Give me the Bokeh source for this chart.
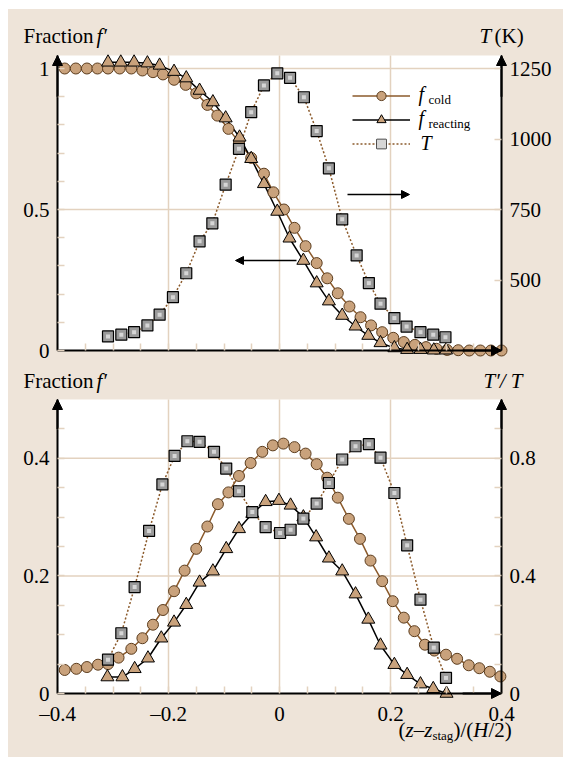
from bokeh.plotting import figure
from bokeh.layouts import column
from bokeh.models import (Range1d, LinearAxis, FixedTicker, Arrow, NormalHead,
                          Label, Legend, LegendItem)
from bokeh.embed import file_html
from bokeh.resources import INLINE

# ---------------- data ----------------
# Top panel: mean fractions and temperature
x_cold_top = [-0.387, -0.367, -0.347, -0.328, -0.309, -0.288, -0.267, -0.247, -0.228, -0.21,
              -0.19, -0.169, -0.15, -0.13, -0.112, -0.092, -0.073, -0.051, -0.028, -0.011,
              0.008, 0.027, 0.047, 0.067, 0.086, 0.105, 0.126, 0.146, 0.165, 0.185,
              0.205, 0.224, 0.244, 0.264, 0.283, 0.302, 0.322, 0.342, 0.362, 0.381, 0.4]
f_cold_top = [1.0, 1.0, 1.0, 1.0, 1.0, 1.0, 1.0, 0.993, 0.987, 0.979,
              0.960, 0.942, 0.912, 0.871, 0.833, 0.786, 0.739, 0.683, 0.627, 0.561,
              0.5, 0.435, 0.370, 0.310, 0.256, 0.203, 0.156, 0.118, 0.089, 0.065,
              0.045, 0.030, 0.020, 0.012, 0.006, 0.002, 0.001, 0.0, 0.0, 0.0, 0.0]

x_react_top = [-0.309, -0.286, -0.262, -0.238, -0.216, -0.19, -0.168, -0.144, -0.120, -0.097,
               -0.072, -0.051, -0.028, -0.004, 0.018, 0.043, 0.067, 0.089, 0.113, 0.137,
               0.160, 0.182, 0.207, 0.230, 0.254, 0.278, 0.300]
f_react_top = [1.022, 1.022, 1.022, 1.019, 1.011, 0.989, 0.966, 0.922, 0.881, 0.824,
               0.756, 0.680, 0.591, 0.493, 0.398, 0.319, 0.239, 0.175, 0.124, 0.086,
               0.053, 0.027, 0.009, 0.003, 0.003, 0.001, 0.001]

x_T_top = [-0.309, -0.285, -0.262, -0.238, -0.216, -0.192, -0.168, -0.144, -0.121, -0.097,
           -0.073, -0.051, -0.028, -0.004, 0.019, 0.044, 0.067, 0.089, 0.113, 0.139,
           0.161, 0.182, 0.207, 0.229, 0.254, 0.277, 0.299]
T_top = [300, 306, 315, 339, 377, 439, 524, 637, 701, 838,
         965, 1095, 1190, 1233, 1217, 1148, 1028, 896, 715, 587,
         489, 416, 365, 335, 315, 306, 297]

# Bottom panel: fluctuations
x_cold_bot = [-0.387, -0.366, -0.347, -0.327, -0.309, -0.290, -0.267, -0.247, -0.228, -0.210,
              -0.190, -0.171, -0.150, -0.130, -0.111, -0.092, -0.073, -0.052, -0.031, -0.012,
              0.007, 0.027, 0.047, 0.067, 0.086, 0.105, 0.125, 0.145, 0.164, 0.185,
              0.204, 0.224, 0.243, 0.262, 0.279, 0.300, 0.320, 0.341, 0.360, 0.379, 0.398]
f_cold_bot = [0.040, 0.042, 0.045, 0.049, 0.050, 0.061, 0.076, 0.094, 0.117, 0.142,
              0.174, 0.209, 0.246, 0.284, 0.322, 0.342, 0.370, 0.392, 0.411, 0.422,
              0.425, 0.419, 0.408, 0.390, 0.367, 0.333, 0.297, 0.263, 0.226, 0.191,
              0.157, 0.129, 0.106, 0.083, 0.073, 0.066, 0.059, 0.048, 0.043, 0.037, 0.029]

x_react_bot = [-0.310, -0.283, -0.261, -0.237, -0.213, -0.190, -0.168, -0.144, -0.120, -0.096,
               -0.073, -0.049, -0.025, -0.001, 0.020, 0.043, 0.066, 0.089, 0.113, 0.137,
               0.160, 0.182, 0.207, 0.230, 0.254, 0.277, 0.301]
f_react_bot = [0.028, 0.028, 0.042, 0.060, 0.094, 0.121, 0.151, 0.189, 0.208, 0.246,
               0.280, 0.306, 0.326, 0.328, 0.320, 0.300, 0.266, 0.230, 0.208, 0.169,
               0.126, 0.082, 0.049, 0.032, 0.016, 0.008, 0.000]

x_T_bot = [-0.309, -0.285, -0.261, -0.235, -0.211, -0.189, -0.166, -0.144, -0.118, -0.096,
           -0.073, -0.049, -0.025, 0.001, 0.020, 0.043, 0.067, 0.089, 0.113, 0.137,
           0.161, 0.182, 0.207, 0.230, 0.254, 0.278, 0.300]
Trms_bot = [0.115, 0.205, 0.362, 0.553, 0.711, 0.808, 0.858, 0.856, 0.822, 0.765,
            0.688, 0.617, 0.566, 0.546, 0.557, 0.595, 0.646, 0.716, 0.796, 0.841,
            0.848, 0.802, 0.682, 0.504, 0.319, 0.156, 0.053]

# ticks and tick labels
x_ticks = [-0.4, -0.2, 0.0, 0.2, 0.4]
x_tick_labels = ["\u20130.4", "\u20130.2", "0", "0.2", "0.4"]
x_minor = [-0.35, -0.3, -0.25, -0.15, -0.1, -0.05, 0.05, 0.1, 0.15, 0.25, 0.3, 0.35]
top_f_ticks = [0.0, 0.5, 1.0]
top_f_labels = ["0", "0.5", "1"]
top_f_minor = [0.1, 0.2, 0.3, 0.4, 0.6, 0.7, 0.8, 0.9]
top_T_ticks = [500, 750, 1000, 1250]
top_T_labels = ["500", "750", "1000", "1250"]
bot_f_ticks = [0.0, 0.2, 0.4]
bot_f_labels = ["0", "0.2", "0.4"]
bot_f_minor = [0.05, 0.1, 0.15, 0.25, 0.3, 0.35, 0.45]
bot_r_ticks = [0.0, 0.4, 0.8]
bot_r_labels = ["0", "0.4", "0.8"]
bot_r_minor = [0.1, 0.2, 0.3, 0.5, 0.6, 0.7, 0.9]

# ---------------- styling / geometry ----------------
SERIF = "Liberation Serif"
BG = "#EEE4D9"
GRID = "#E3D2BF"
COLD_LINE = "#8B5A2B"
MARK_FILL = "#C9A27C"
MARK_EDGE = "#5C3D1E"
SQ_FILL = "#9A9A9A"
SQ_HI = "#D6D6D6"
FS = 21

X0, X1 = -0.4, 0.4
TOP_Y_END = 295 / 282.0          # top panel f range 0 .. 1.046
BOT_Y_END = 0.5
PXU_X = 555.0                    # pixels per x unit
PXU_TOP = 282.0
PXU_BOT = 588.0
FIG_W = 555
LEFT_PAD, RIGHT_PAD = 49, 62      # beige space left/right of the plot area


def style_axis(ax, ticks, labels, minor, show=True):
    ax.ticker = FixedTicker(ticks=ticks, minor_ticks=minor)
    ax.major_label_overrides = {t: (lab if show else "") for t, lab in zip(ticks, labels)}
    ax.axis_line_width = 2
    ax.axis_line_color = "black"
    ax.major_tick_in = 7
    ax.major_tick_out = 0
    ax.minor_tick_in = 7
    ax.minor_tick_out = 0
    ax.major_tick_line_color = GRID
    ax.minor_tick_line_color = GRID
    ax.major_tick_line_width = 1.5
    ax.minor_tick_line_width = 1.5
    ax.major_label_text_font = SERIF
    ax.major_label_text_font_size = f"{FS}px" if show else "1px"
    ax.major_label_text_color = "black"
    ax.major_label_standoff = 8


def base_fig(h, top_pad, bottom_pad, y_end, pxu_y, grid_y):
    y_lo = -bottom_pad / pxu_y
    y_hi = y_end + top_pad / pxu_y
    p = figure(width=FIG_W, height=h,
               x_range=Range1d(X0 - LEFT_PAD / PXU_X, X1 + RIGHT_PAD / PXU_X),
               y_range=Range1d(y_lo, y_hi), title=None,
               output_backend="svg", toolbar_location=None,
               min_border=0, min_border_left=0, min_border_right=0,
               min_border_top=0, min_border_bottom=0,
               border_fill_color=BG, background_fill_color=BG, outline_line_color=None)
    p.grid.visible = False
    # white plot area
    p.quad(left=[X0], right=[X1], bottom=[0], top=[y_end], fill_color="white",
           line_color=None, level="image")
    # grid lines, at the tick positions
    gx = [t for t in x_ticks if X0 < t < X1]
    p.segment(x0=gx, y0=[0] * len(gx), x1=gx, y1=[y_end] * len(gx),
              line_color=GRID, line_width=1.5, level="underlay")
    p.segment(x0=[X0] * len(grid_y), y0=grid_y, x1=[X1] * len(grid_y), y1=grid_y,
              line_color=GRID, line_width=1.5, level="underlay")
    return p, y_lo, y_hi


def axis_arrow(p, x0, y0, x1, y1):
    p.add_layout(Arrow(end=NormalHead(size=10, fill_color="black", line_color="black", line_width=1),
                       x_start=x0, y_start=y0, x_end=x1, y_end=y1,
                       line_width=2, line_color="black"))


# text placed by page-pixel baseline position (plot area: x 57..501)
def text(p, panel, px, base, s, size=FS, style="normal", align="left"):
    py = base - 0.38 * size      # compensate rendered baseline offset
    x = X0 + (px - 57) / PXU_X
    if panel == 1:
        y = (350 - py) / PXU_TOP
    else:
        y = (693 - py) / PXU_BOT
    p.add_layout(Label(x=x, y=y, text=s, text_font=SERIF, text_font_size=f"{size}px",
                       text_font_style=style, text_align=align,
                       text_baseline="alphabetic", text_color="black"))


def d1(px, py):
    return X0 + (px - 57) / PXU_X, (350 - py) / PXU_TOP


# ---------------- top panel (page y 9..362) ----------------
p1, lo1, hi1 = base_fig(353, 46, 12, TOP_Y_END, PXU_TOP, [0.5, 1.0])
p1.extra_y_ranges = {"T": Range1d(250 + 1000 * lo1, 250 + 1000 * hi1)}
p1.xaxis.fixed_location = 0
p1.xaxis.bounds = (X0, X1)
p1.yaxis.fixed_location = X0
p1.yaxis.bounds = (0, TOP_Y_END)
rax1 = LinearAxis(y_range_name="T", fixed_location=X1, bounds=(250, 250 + 1000 * TOP_Y_END))
p1.add_layout(rax1, "right")
style_axis(p1.xaxis[0], x_ticks, x_tick_labels, x_minor, show=False)
style_axis(p1.yaxis[0], top_f_ticks, top_f_labels, top_f_minor)
style_axis(rax1, top_T_ticks, top_T_labels, [])

lT = p1.line(x_T_top, T_top, y_range_name="T", line_color=COLD_LINE, line_width=1.5, line_dash="2 2")
lc = p1.line(x_cold_top, f_cold_top, line_color=COLD_LINE, line_width=1.5)
lr = p1.line(x_react_top, f_react_top, line_color="black", line_width=1.5)
sc = p1.scatter(x_cold_top, f_cold_top, marker="circle", size=11, fill_color=MARK_FILL,
                line_color=MARK_EDGE, line_width=1)
sr = p1.scatter(x_react_top, f_react_top, marker="triangle", size=13, fill_color=MARK_FILL,
                line_color="black", line_width=1)
sT = p1.scatter(x_T_top, T_top, y_range_name="T", marker="square", size=11, fill_color=SQ_FILL,
                line_color="black", line_width=1.2)
sT2 = p1.scatter(x_T_top, T_top, y_range_name="T", marker="square", size=4, fill_color=SQ_HI,
                 line_color=None)

legend = Legend(items=[LegendItem(label=" ", renderers=[lc, sc]),
                       LegendItem(label=" ", renderers=[lr, sr]),
                       LegendItem(label=" ", renderers=[lT, sT, sT2])],
                location=(344, 207), glyph_width=58, glyph_height=23, spacing=1,
                padding=0, margin=0, label_standoff=0, label_text_font_size="1px",
                label_width=0, label_height=0,
                border_line_color=None, background_fill_alpha=0)
p1.add_layout(legend)

axis_arrow(p1, X0, 0.9, X0, TOP_Y_END)
axis_arrow(p1, X1, 0.9, X1, TOP_Y_END)
axis_arrow(p1, 0.33, 0.0, X1, 0.0)

for (xa, ya), (xb, yb) in [(d1(296, 260), d1(235, 260)), (d1(347, 194), d1(409, 194))]:
    p1.add_layout(Arrow(end=NormalHead(size=8, fill_color="black", line_color="black", line_width=1),
                        x_start=xa, y_start=ya, x_end=xb, y_end=yb,
                        line_width=1.5, line_color="black"))

text(p1, 1, 23, 43, "Fraction")
text(p1, 1, 96, 43, "f\u2032", style="italic")
text(p1, 1, 479, 43, "T", style="italic")
text(p1, 1, 494, 43, "(K)")
text(p1, 1, 418, 101, "f", size=20, style="italic")
text(p1, 1, 428, 104, "cold", size=13)
text(p1, 1, 418, 125, "f", size=20, style="italic")
text(p1, 1, 428, 128, "reacting", size=13)
text(p1, 1, 420, 150, "T", size=20, style="italic")

# ---------------- bottom panel (page y 362..757) ----------------
p2, lo2, hi2 = base_fig(395, 37, 64, BOT_Y_END, PXU_BOT, [0.2, 0.4])
p2.extra_y_ranges = {"R": Range1d(2 * lo2, 2 * hi2)}
p2.xaxis.fixed_location = 0
p2.xaxis.bounds = (X0, X1)
p2.yaxis.fixed_location = X0
p2.yaxis.bounds = (0, BOT_Y_END)
rax2 = LinearAxis(y_range_name="R", fixed_location=X1, bounds=(0, 2 * BOT_Y_END))
p2.add_layout(rax2, "right")
style_axis(p2.xaxis[0], x_ticks, x_tick_labels, x_minor)
style_axis(p2.yaxis[0], bot_f_ticks, bot_f_labels, bot_f_minor)
style_axis(rax2, bot_r_ticks, bot_r_labels, bot_r_minor)

p2.line(x_T_bot, Trms_bot, y_range_name="R", line_color=COLD_LINE, line_width=1.5, line_dash="2 2")
p2.line(x_cold_bot, f_cold_bot, line_color=COLD_LINE, line_width=1.5)
p2.line(x_react_bot, f_react_bot, line_color="black", line_width=1.5)
p2.scatter(x_cold_bot, f_cold_bot, marker="circle", size=11, fill_color=MARK_FILL,
           line_color=MARK_EDGE, line_width=1)
p2.scatter(x_react_bot, f_react_bot, marker="triangle", size=13, fill_color=MARK_FILL,
           line_color="black", line_width=1)
p2.scatter(x_T_bot, Trms_bot, y_range_name="R", marker="square", size=11, fill_color=SQ_FILL,
           line_color="black", line_width=1.2)
p2.scatter(x_T_bot, Trms_bot, y_range_name="R", marker="square", size=4, fill_color=SQ_HI,
           line_color=None)

axis_arrow(p2, X0, 0.45, X0, BOT_Y_END)
axis_arrow(p2, X1, 0.45, X1, BOT_Y_END)
axis_arrow(p2, 0.33, 0.0, X1, 0.0)

text(p2, 2, 23, 388, "Fraction")
text(p2, 2, 96, 388, "f\u2032", style="italic")
text(p2, 2, 522, 388, "T\u2032/ T", style="italic", align="right")

# x-axis title: (z–z_stag)/(H/2)
xpos = 398
for s, st, sz, base, adv in [("(", "normal", FS, 737, 7.0), ("z", "italic", FS, 737, 8.2),
                             ("\u2013", "normal", FS, 737, 10.5), ("z", "italic", FS, 737, 8.2),
                             ("stag", "normal", 13, 740, 21.0), (")/(", "normal", FS, 737, 19.8),
                             ("H", "italic", FS, 737, 15.2), ("/2)", "normal", FS, 737, 23.3)]:
    text(p2, 2, xpos, base, s, size=sz, style=st)
    xpos += adv

layout = column(p1, p2, spacing=0, margin=(9, 0, 0, 8), styles={"background-color": BG})
open("out.html", "w").write(file_html(layout, INLINE))
